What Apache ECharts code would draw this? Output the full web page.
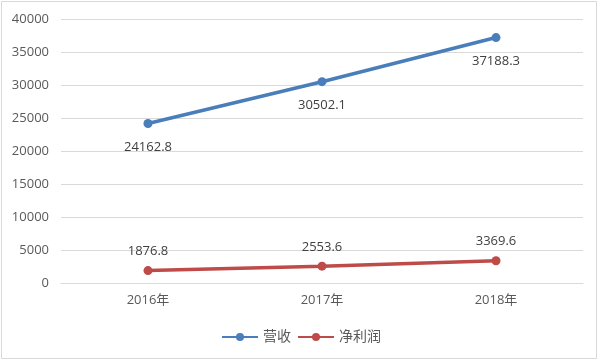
<!DOCTYPE html>
<html><head><meta charset="utf-8">
<script src="https://cdn.jsdelivr.net/npm/echarts@6/dist/echarts.min.js"></script>
<style>html,body{margin:0;padding:0;background:#fff}#c{width:602px;height:362px}</style>
</head><body><div id="c"></div>
<script>
const categories = ['2016年', '2017年', '2018年'];
const revenue = [24162.8, 30502.1, 37188.3];
const profit = [1876.8, 2553.6, 3369.6];
const seriesNames = ['营收', '净利润'];
const FONT = '"Open Sans", "Noto Sans CJK SC", sans-serif';
const chart = echarts.init(document.getElementById('c'), null, {renderer: 'canvas'});
chart.setOption({
  animation: false,
  backgroundColor: '#fff',
  graphic: [{type: 'rect', shape: {x: 1.5, y: 1.5, width: 595, height: 357}, style: {fill: 'none', stroke: '#d9d9d9', lineWidth: 1}}],
  grid: {left: 61, right: 19, top: 19, bottom: 79},
  legend: {
    bottom: 13, left: 'center', itemWidth: 36, itemHeight: 10, itemGap: 6,
    textStyle: {color: '#595959', fontSize: 14, fontFamily: FONT},
    data: seriesNames
  },
  xAxis: {
    type: 'category', data: categories, boundaryGap: true,
    axisLine: {lineStyle: {color: '#d9d9d9'}}, axisTick: {show: false},
    axisLabel: {color: '#595959', fontSize: 13, margin: 11, fontFamily: FONT}
  },
  yAxis: {
    type: 'value', min: 0, max: 40000, interval: 5000,
    axisLine: {show: false}, axisTick: {show: false},
    splitLine: {lineStyle: {color: '#d9d9d9'}},
    axisLabel: {color: '#595959', fontSize: 13, margin: 12, fontFamily: FONT, formatter: v => String(v)}
  },
  series: [
    {name: seriesNames[0], type: 'line', data: revenue, symbol: 'circle', symbolSize: 9,
     lineStyle: {width: 3.5, color: '#4a7ebb'}, itemStyle: {color: '#4a7ebb'},
     label: {show: true, position: 'bottom', distance: 13, color: '#404040', fontSize: 13, fontFamily: FONT}},
    {name: seriesNames[1], type: 'line', data: profit, symbol: 'circle', symbolSize: 9,
     lineStyle: {width: 3.5, color: '#be4b48'}, itemStyle: {color: '#be4b48'},
     label: {show: true, position: 'top', distance: 8, color: '#404040', fontSize: 13, fontFamily: FONT}}
  ]
});
</script></body></html>
